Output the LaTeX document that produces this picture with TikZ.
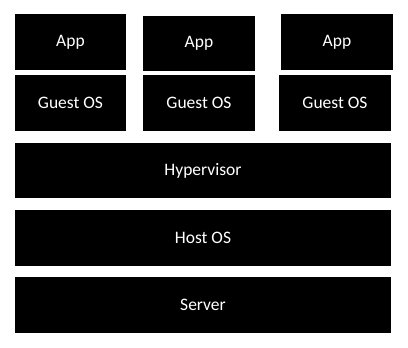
\documentclass[tikz,border=0pt]{standalone}
\usepackage{fontspec}
\setmainfont{Carlito}
\usepackage{tikz}
\usetikzlibrary{positioning}

\tikzset{
  layer/.style={fill=black, text=white, inner sep=0pt, minimum height=56pt,
    font=\fontsize{17.5}{21}\selectfont},
  small/.style={layer, minimum width=111pt},
  wide/.style={layer, minimum width=376pt}
}

\begin{document}
\begin{tikzpicture}[x=1pt, y=-1pt]
  \useasboundingbox (0,0) rectangle (408,348);

  % Guest stacks
  \node[small] (app1) at (70.5,42) {App};
  \node[small, minimum width=112pt, minimum height=55pt] (app2) at (199,43.5) {App};
  \node[small, minimum width=112pt] (app3) at (337,42) {App};
  \node[small] (guest1) at (70.5,103) {Guest OS};
  \node[small, minimum width=112pt] (guest2) at (199,103) {Guest OS};
  \node[small, minimum width=112pt] (guest3) at (335,103) {Guest OS};

  % Shared layers
  \node[wide, minimum height=55pt] (hyper) at (203,170.5) {Hypervisor};
  \node[wide] (host) at (203,238) {Host OS};
  \node[wide] (server) at (203,305) {Server};
\end{tikzpicture}
\end{document}
